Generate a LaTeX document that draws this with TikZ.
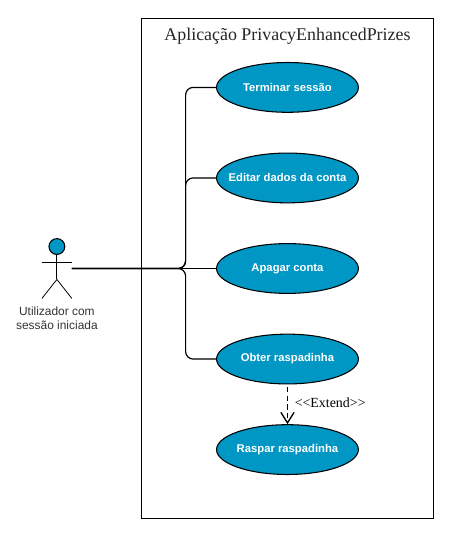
\documentclass[tikz,border=0pt]{standalone}
\usepackage{fontspec}
\setmainfont{Liberation Serif}
\setsansfont{Liberation Sans}
\usepackage{tikz}
\usetikzlibrary{shapes.geometric, arrows.meta, positioning}
\definecolor{usecaseblue}{HTML}{0097C4}

\begin{document}
\begin{tikzpicture}[node distance=2.4cm, auto]
	\tikzstyle{usecase} = [ellipse, draw, fill=usecaseblue, text=white, font=\sffamily\bfseries\fontsize{8.5}{11}\selectfont, minimum width=3.76cm, minimum height=1.32cm, inner xsep=-1.2cm, inner ysep=0pt, line width=0.8pt]
	\tikzstyle{system} = [rectangle, draw, minimum width=7.76cm, minimum height=13.26cm, line width=0.7pt]
	\tikzstyle{line} = [draw, line width=0.9pt, rounded corners=0.2cm]
	\tikzstyle{limb} = [draw, line width=0.6pt]
	\tikzstyle{extend} = [draw, line width=1pt, dash pattern=on 4pt off 2.5pt, -{Straight Barb[length=8pt,width=10pt]}]

	\useasboundingbox (-7.62,7.117) rectangle (4.286,-7.117);

	\node [system] (app) at (0,0) {};
	\node [font=\fontsize{13.5}{16}\selectfont, text=black!85] (title) at (0,6.165) {Aplicação PrivacyEnhancedPrizes};

	\node [usecase] (apagar) at (0,0) {Apagar conta};
	\node [usecase, above of=apagar] (editar) {Editar dados da conta};
	\node [usecase, above of=editar] (terminar) {Terminar sessão};
	\node [usecase, below of=apagar] (obter) {Obter raspadinha};
	\node [usecase, below of=obter] (raspar) {Raspar raspadinha};

	% actor
	\node [circle, draw, fill=usecaseblue, minimum size=0.42cm, inner sep=0pt, line width=0.8pt] (head) at (-6.112,0.582) {};
	\coordinate (hip) at (-6.112,-0.291);
	\coordinate (armleft) at (-6.509,0.159);
	\coordinate (armright) at (-5.715,0.159);
	\coordinate (footleft) at (-6.509,-0.794);
	\coordinate (footright) at (-5.715,-0.794);
	\coordinate (hand) at (-5.715,0);
	\coordinate (bus) at (-2.70,0);
	\path [limb] (head) -- (hip);
	\path [limb] (armleft) -- (armright);
	\path [limb] (hip) -- (footleft);
	\path [limb] (hip) -- (footright);
	\node [font=\sffamily\fontsize{9}{10.7}\selectfont, align=center, text=black!80] (actorname) at (-6.112,-1.323) {Utilizador com\\sessão iniciada};

	\path [line] (hand) -- (bus) |- (terminar);
	\path [line] (hand) -- (bus) |- (editar);
	\path [line] (hand) -- (apagar);
	\path [line] (hand) -- (bus) |- (obter);
	\path [extend] ([yshift=-2pt]obter.south) -- node [right, font=\fontsize{10.5}{12}\selectfont, inner sep=5pt, yshift=2pt] (extlabel) {<{}<Extend>{}>} (raspar.north);
\end{tikzpicture}
\end{document}
